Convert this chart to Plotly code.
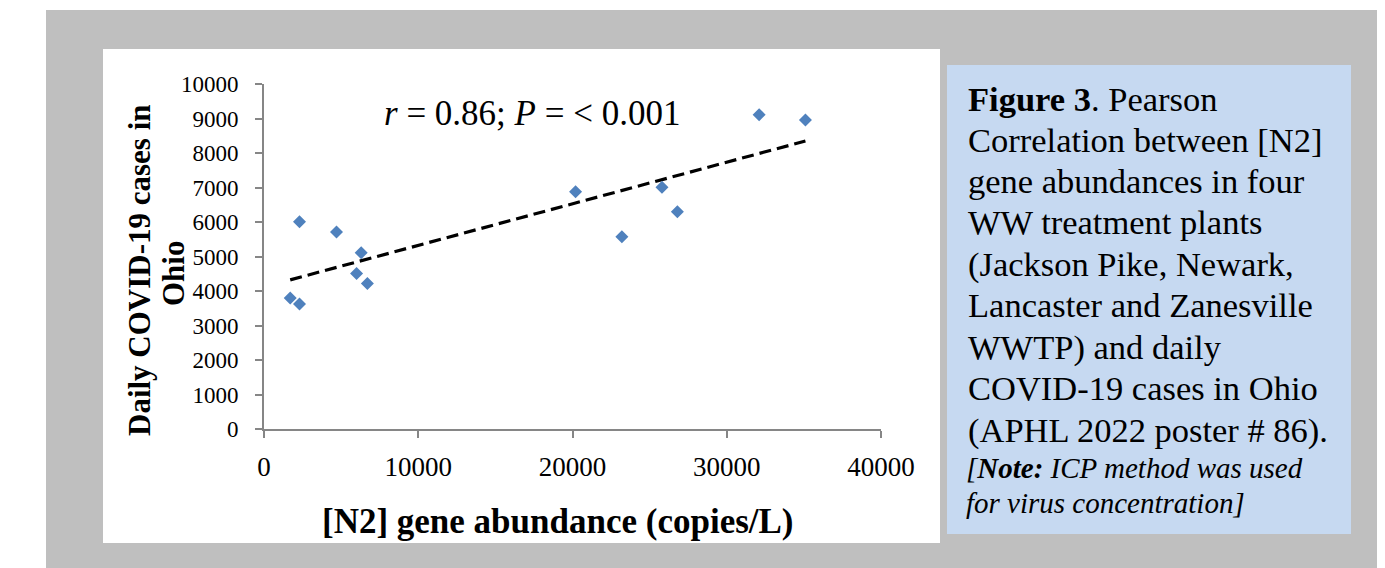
import numpy as np
import plotly.graph_objects as go

# ---- data ----
n2_abundance = [1700, 2300, 2300, 4700, 6000, 6300, 6700, 20200, 23200, 25800, 26800, 32100, 35100]
daily_cases = [3800, 3620, 6010, 5710, 4510, 5110, 4220, 6880, 5575, 7005, 6300, 9110, 8960]
x_ticks = [0, 10000, 20000, 30000, 40000]
y_ticks = [0, 1000, 2000, 3000, 4000, 5000, 6000, 7000, 8000, 9000, 10000]
stat_text = "<i>r</i> = 0.86; <i>P</i> = &lt; 0.001"
x_title = "<b>[N2] gene abundance (copies/L)</b>"
y_title_lines = ["<b>Daily COVID-19 cases in</b>", "<b>Ohio</b>"]
caption_lines = [
    "<b>Figure 3</b>. Pearson",
    "Correlation between [N2]",
    "gene abundances in four",
    "WW treatment plants",
    "(Jackson Pike, Newark,",
    "Lancaster and Zanesville",
    "WWTP) and daily",
    "COVID-19 cases in Ohio",
    "(APHL 2022 poster # 86).",
]
note_lines = ["<i>[<b>Note:</b> ICP method was used</i>", "<i>for virus concentration]</i>"]

# linear trend (least squares) from the data
slope, intercept = np.polyfit(n2_abundance, daily_cases, 1)
tx = [min(n2_abundance), max(n2_abundance)]
ty = [slope * v + intercept for v in tx]

# ---- layout geometry (screen pixels; page body has an 8px margin) ----
OFF = 8
SW, SH = 1385, 568
FW, FH = SW - OFF, SH - OFF
L, R, T, B = 264 - OFF, 881 - OFF, 84 - OFF, 429 - OFF
W, H = R - L, B - T

def px(x):
    return (x - OFF - L) / W

def py(y):
    return (B - (y - OFF)) / H

FONT = "Liberation Serif, Times New Roman, serif"

fig = go.Figure()
fig.add_trace(go.Scatter(
    x=tx, y=ty, mode="lines",
    line=dict(color="black", width=3.2, dash="12px,6px"),
    hoverinfo="skip", showlegend=False,
))
fig.add_trace(go.Scatter(
    x=n2_abundance, y=daily_cases, mode="markers",
    marker=dict(symbol="diamond", size=10, color="#4F81BD", line=dict(width=0)),
    showlegend=False,
))

shapes = [
    dict(type="rect", xref="paper", yref="paper", x0=px(46), x1=px(SW + 20), y0=py(SH + 20), y1=py(10),
         fillcolor="#BFBFBF", line=dict(width=0), layer="below"),
    dict(type="rect", xref="paper", yref="paper", x0=px(103), x1=px(940), y0=py(543), y1=py(49),
         fillcolor="white", line=dict(width=0), layer="below"),
    dict(type="rect", xref="paper", yref="paper", x0=px(947), x1=px(1351), y0=py(534), y1=py(65),
         fillcolor="#C6D9F1", line=dict(width=0), layer="below"),
]

annotations = [
    dict(text=stat_text, x=px(532), y=py(113), xref="paper", yref="paper", showarrow=False,
         xanchor="center", yanchor="middle", font=dict(family=FONT, size=35, color="black")),
    dict(text=x_title, x=px(558), y=py(521), xref="paper", yref="paper", showarrow=False,
         xanchor="center", yanchor="middle", font=dict(family=FONT, size=35, color="black")),
    dict(text=y_title_lines[0], x=px(139), y=py(270), xref="paper", yref="paper", showarrow=False,
         textangle=-90, xanchor="center", yanchor="middle", font=dict(family=FONT, size=31, color="black")),
    dict(text=y_title_lines[1], x=px(173), y=py(274), xref="paper", yref="paper", showarrow=False,
         textangle=-90, xanchor="center", yanchor="middle", font=dict(family=FONT, size=31, color="black")),
]

cap_y = [99, 140, 181, 222, 264, 305, 347, 388, 431]
for line, yy in zip(caption_lines, cap_y):
    annotations.append(dict(text=line, x=px(966), y=py(yy), xref="paper", yref="paper", showarrow=False,
                            xanchor="left", yanchor="middle",
                            font=dict(family=FONT, size=34.5, color="black")))
note_y = [468, 503]
for line, yy in zip(note_lines, note_y):
    annotations.append(dict(text=line, x=px(964), y=py(yy), xref="paper", yref="paper", showarrow=False,
                            xanchor="left", yanchor="middle",
                            font=dict(family=FONT, size=29, color="black")))

fig.update_layout(
    width=FW, height=FH,
    margin=dict(l=L, r=FW - R, t=T, b=FH - B, pad=0),
    paper_bgcolor="white", plot_bgcolor="rgba(0,0,0,0)",
    shapes=shapes, annotations=annotations,
    xaxis=dict(range=[0, 40000], tickvals=x_ticks, ticktext=[str(v) for v in x_ticks],
               showgrid=False, zeroline=False, showline=True, linecolor="#868686", linewidth=2,
               ticks="outside", ticklen=7, tickwidth=2, tickcolor="#868686",
               tickfont=dict(family=FONT, size=27, color="black"), ticklabelstandoff=6),
    yaxis=dict(range=[0, 10000], tickvals=y_ticks, ticktext=[str(v) for v in y_ticks],
               showgrid=False, zeroline=False, showline=True, linecolor="#868686", linewidth=2,
               ticks="outside", ticklen=7, tickwidth=2, tickcolor="#868686",
               tickfont=dict(family=FONT, size=23, color="black"), ticklabelstandoff=12),
)

fig.write_html("out.html")
